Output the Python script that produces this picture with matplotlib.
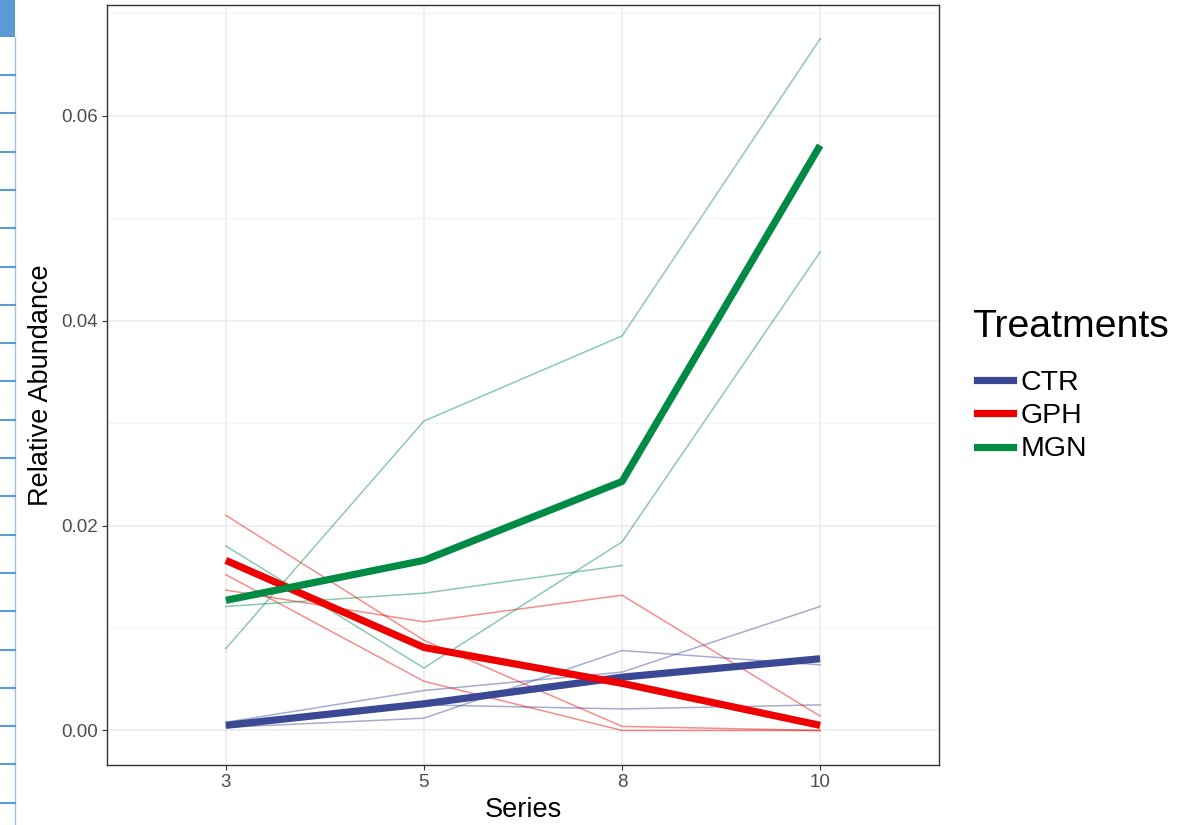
import numpy as np
import matplotlib.pyplot as plt
from matplotlib.lines import Line2D
from matplotlib.patches import Rectangle

plt.rcParams['font.family'] = ['Liberation Sans', 'DejaVu Sans']

series = ["3", "5", "8", "10"]
treatments = ["CTR", "GPH", "MGN"]
colors = {"CTR": "#3B4994", "GPH": "#EE0000", "MGN": "#008B45"}

# replicate lines (thin)
ctr_reps = [
    [0.0008, 0.0039, 0.0057, 0.0121],
    [0.0003, 0.0012, 0.0078, 0.0064],
    [0.0005, 0.0025, 0.0021, 0.0025],
]
gph_reps = [
    [0.0210, 0.0088, 0.0004, 0.0000],
    [0.0152, 0.0048, 0.0000, 0.0000],
    [0.0137, 0.0106, 0.0132, 0.0014],
]
mgn_reps = [
    [0.0080, 0.0302, 0.0385, 0.0675],
    [0.0180, 0.0061, 0.0184, 0.0467],
    [0.0121, 0.0134, 0.0161, np.nan],
]

# treatment means (thick)
ctr_mean = [0.0005, 0.0026, 0.0052, 0.0070]
gph_mean = [0.0166, 0.0081, 0.0046, 0.0005]
mgn_mean = [0.0127, 0.0166, 0.0243, 0.0571]

reps = {"CTR": ctr_reps, "GPH": gph_reps, "MGN": mgn_reps}
means = {"CTR": ctr_mean, "GPH": gph_mean, "MGN": mgn_mean}

fig = plt.figure(figsize=(11.78, 8.25), dpi=100)
ax = fig.add_axes([107/1178, 1 - 765/825, (939 - 107)/1178, (765 - 5)/825])

x = np.arange(1, len(series) + 1)
for t in treatments:
    for r in reps[t]:
        ax.plot(x, r, color=colors[t], lw=1.1, alpha=0.45, zorder=3)
for t in treatments:
    ax.plot(x, means[t], color=colors[t], lw=5.2, zorder=4, solid_capstyle="butt")

ax.set_xlim(0.4, 4.6)
ax.set_ylim(-0.00337, 0.0708)
ax.set_xticks(x)
ax.set_xticklabels(series)
ax.set_yticks([0, 0.02, 0.04, 0.06])
ax.set_yticklabels(["0.00", "0.02", "0.04", "0.06"])
ax.set_yticks([0.01, 0.03, 0.05, 0.07], minor=True)

ax.grid(True, which="major", color="#EBEBEB", lw=1.1, zorder=0)
ax.grid(True, which="minor", axis="y", color="#F2F2F2", lw=0.6, zorder=0)
ax.set_axisbelow(True)
for s in ax.spines.values():
    s.set_color("#333333")
    s.set_linewidth(1.0)
ax.tick_params(which="major", length=3.5, width=0.8, color="#333333",
               labelsize=13.5, labelcolor="#4D4D4D", pad=3)
ax.tick_params(which="minor", length=0)

ax.set_xlabel("Series", fontsize=19.5, color="black", labelpad=4)
ax.set_ylabel("Relative Abundance", fontsize=19.5, color="black", labelpad=5)

# legend: title drawn separately so the gap matches ggplot
fig.text(972/1178, 1 - 327/825, "Treatments", fontsize=28.3,
         ha="left", va="center")
handles = [Line2D([0], [0], color=colors[t], lw=5.2) for t in treatments]
leg = fig.legend(handles, treatments, loc="upper left",
                 bbox_to_anchor=(963/1178, 1 - 356/825), frameon=False,
                 fontsize=20.5, handlelength=1.25, borderpad=0,
                 handletextpad=0.28, labelspacing=0.25)

# screenshot strip on the left edge
fig.add_artist(Rectangle((0, 1 - 37/825), 15/1178, 37/825,
                         transform=fig.transFigure, color="#5B9BD5", lw=0))
fig.add_artist(Line2D([15/1178, 15/1178], [0, 1 - 37/825],
                      transform=fig.transFigure, color="#9DC3E6", lw=1))
for yp in np.arange(75, 825, 38.3):
    fig.add_artist(Line2D([0, 15/1178], [1 - yp/825, 1 - yp/825],
                          transform=fig.transFigure, color="#5B9BD5", lw=1.5))

fig.savefig("out.png", dpi=100)
